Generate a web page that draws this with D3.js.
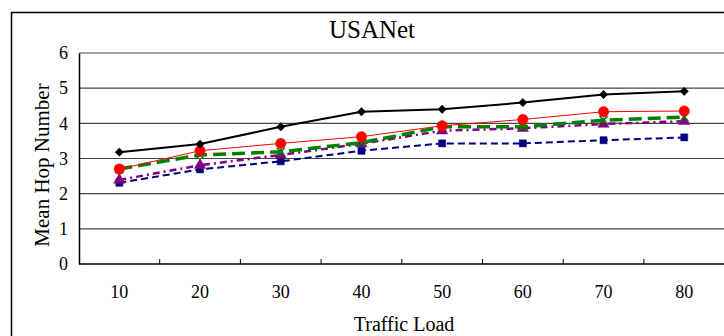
<!DOCTYPE html>
<html>
<head>
<meta charset="utf-8">
<script src="https://cdn.jsdelivr.net/npm/d3@7"></script>
<style>
    body { margin: 0; background: #fff; }
    text { font-family: "Liberation Serif", "Times New Roman", serif; fill: #000; }
</style>
</head>
<body>
<svg id="chart" width="724" height="336"></svg>
<script>
//Data
let loads = ["10", "20", "30", "40", "50", "60", "70", "80"];
let blackSeries = [3.18, 3.41, 3.90, 4.33, 4.40, 4.59, 4.82, 4.91];
let redSeries = [2.70, 3.22, 3.43, 3.62, 3.93, 4.11, 4.33, 4.35];
let greenSeries = [2.70, 3.10, 3.19, 3.45, 3.90, 3.90, 4.09, 4.18];
let purpleSeries = [2.39, 2.81, 3.10, 3.42, 3.79, 3.86, 3.98, 4.06];
let navySeries = [2.31, 2.69, 2.92, 3.22, 3.43, 3.43, 3.52, 3.60];
let yTicks = [0, 1, 2, 3, 4, 5, 6];

let svg = d3.select("#chart");

//Plot area
let plotLeft = 79, plotTop = 53, plotBottom = 264, bandW = 80.7;
let x = d3.scaleBand().domain(loads).range([plotLeft, plotLeft + bandW * loads.length]);
let y = d3.scaleLinear().domain([0, 6]).range([plotBottom, plotTop]);

//Outer frame
svg.append("rect")
    .attr("x", 11.5).attr("y", 12.5)
    .attr("width", 740).attr("height", 340)
    .attr("fill", "none").attr("stroke", "#000").attr("stroke-width", 1.5);

//Title
svg.append("text")
    .attr("x", 372).attr("y", 38)
    .attr("text-anchor", "middle")
    .attr("font-size", 25)
    .text("USANet");

//Grid lines
svg.append("g")
    .selectAll("line")
    .data(yTicks.filter(d => d > 0))
    .enter().append("line")
    .attr("x1", plotLeft).attr("x2", 724)
    .attr("y1", d => y(d)).attr("y2", d => y(d))
    .attr("stroke", "#444").attr("stroke-width", 1.2);

//Y axis
let yAxis = svg.append("g")
    .attr("transform", "translate(" + plotLeft + ",0)")
    .call(d3.axisLeft(y).tickValues(yTicks).tickFormat(d3.format("d")).tickSize(0).tickPadding(11));
yAxis.select(".domain").attr("stroke", "#000").attr("stroke-width", 1.5);
yAxis.selectAll("text").attr("font-size", 18).attr("font-family", "Liberation Serif");

//X axis: labels at band centres, ticks at band edges
let xAxis = svg.append("g")
    .attr("transform", "translate(0," + plotBottom + ")")
    .call(d3.axisBottom(x).tickSize(0).tickPadding(21));
xAxis.select(".domain").remove();
xAxis.selectAll("text").attr("font-size", 18).attr("font-family", "Liberation Serif");

svg.append("line")
    .attr("x1", plotLeft).attr("x2", 724)
    .attr("y1", plotBottom).attr("y2", plotBottom)
    .attr("stroke", "#000").attr("stroke-width", 1.5);

svg.append("g")
    .selectAll("line")
    .data(loads.slice(1))
    .enter().append("line")
    .attr("x1", d => x(d)).attr("x2", d => x(d))
    .attr("y1", plotBottom).attr("y2", plotBottom - 5)
    .attr("stroke", "#000").attr("stroke-width", 1);

//Axis titles
svg.append("text")
    .attr("transform", "translate(49,165) rotate(-90)")
    .attr("text-anchor", "middle")
    .attr("font-size", 21)
    .text("Mean Hop Number");

svg.append("text")
    .attr("x", 404).attr("y", 331)
    .attr("text-anchor", "middle")
    .attr("font-size", 20)
    .text("Traffic Load");

//Series
let series = [
    {name: "navy", values: navySeries, color: "#000080", width: 2, dash: "7,4", marker: d3.symbolSquare, size: 50},
    {name: "purple", values: purpleSeries, color: "#800080", width: 2.5, dash: "7,4,2,4", marker: d3.symbolTriangle, size: 55},
    {name: "green", values: greenSeries, color: "#008000", width: 3.5, dash: "13,6", marker: d3.symbolX, size: 45},
    {name: "red", values: redSeries, color: "#ff0000", width: 1, dash: null, marker: d3.symbolCircle, size: 85},
    {name: "black", values: blackSeries, color: "#000000", width: 2, dash: null, marker: d3.symbolDiamond2, size: 45}
];

let line = d3.line()
    .x((d, i) => x(loads[i]) + x.bandwidth() / 2)
    .y(d => y(d));

series.forEach(s => {
    let g = svg.append("g").attr("class", "series-" + s.name);
    g.append("path")
        .datum(s.values)
        .attr("fill", "none")
        .attr("stroke", s.color)
        .attr("stroke-width", s.width)
        .attr("stroke-dasharray", s.dash)
        .attr("d", line);
    g.selectAll("path.marker")
        .data(s.values)
        .enter().append("path")
        .attr("class", "marker")
        .attr("transform", (d, i) => "translate(" + (x(loads[i]) + x.bandwidth() / 2) + "," + y(d) + ")")
        .attr("d", d3.symbol().type(s.marker).size(s.size))
        .attr("fill", s.marker === d3.symbolX ? "none" : s.color)
        .attr("stroke", s.color)
        .attr("stroke-width", s.marker === d3.symbolX ? 1.5 : 0.5);
});
</script>
</body>
</html>
